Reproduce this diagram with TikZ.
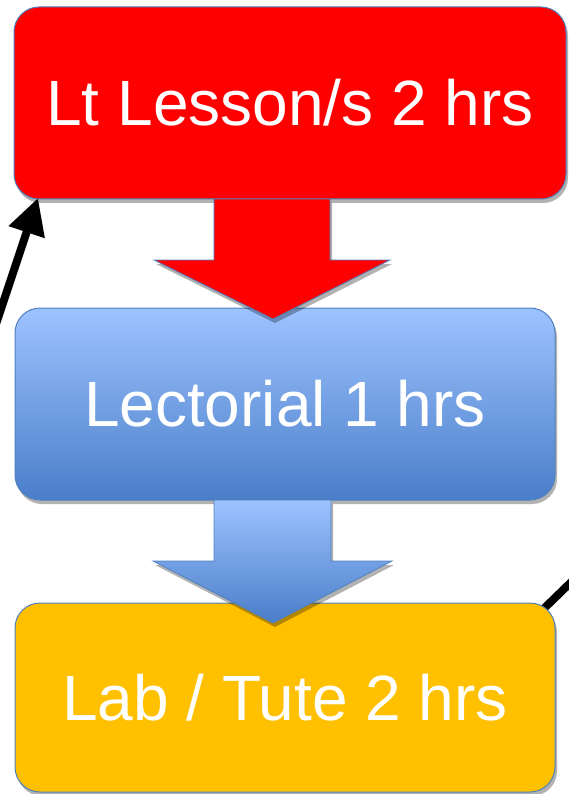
\documentclass[tikz,border=0pt]{standalone}
\usepackage{fontspec}
\setmainfont{Liberation Sans}
\usetikzlibrary{arrows.meta,shadows}

\definecolor{lessonred}{HTML}{FF0000}
\definecolor{edgeblue}{HTML}{4F81BD}
\definecolor{lightblue}{HTML}{9DC3FF}
\definecolor{darkblue}{HTML}{4A7EC9}
\definecolor{labyellow}{HTML}{FFC000}

\begin{document}
\begin{tikzpicture}[x=1pt,y=-1pt,
   every node/.style={draw=edgeblue,line width=1pt,rectangle,rounded corners=25pt,
                      inner sep=0pt,text=white,font=\fontsize{64}{70}\selectfont},
   soft shadow/.style={drop shadow={shadow xshift=2pt,shadow yshift=-4pt,
                                    opacity=.3,fill=black}},
   bluegrad/.style={top color=lightblue,bottom color=darkblue},
   blockarrow/.style={draw=edgeblue,line width=.8pt,line join=miter,soft shadow},
   loop/.style={line width=8pt,-{Triangle[length=36pt,width=36pt]}}]

\useasboundingbox (0,0) rectangle (568,794);

% back loop from the lab to the lesson
\coordinate (labcorner) at (530,622);
\coordinate (lessoncorner) at (38,198);
\draw[loop] (labcorner) -- (660,496) -- (660,880) -- (-90,880)
    -- (-40,432) -- (lessoncorner);

\node[fill=lessonred,soft shadow,minimum width=552pt,minimum height=192pt]
    (lesson) at (290,103) {Lt Lesson/s 2 hrs};
\node[bluegrad,soft shadow,minimum width=540pt,minimum height=192pt]
    (lectorial) at (285,404) {Lectorial 1 hrs};
\node[fill=labyellow,soft shadow,minimum width=540pt,minimum height=189pt]
    (lab) at (285,697.5) {Lab / Tute 2 hrs};

\draw[blockarrow,fill=lessonred] (214,199) -- (330,199) -- (330,260) -- (390,260)
    -- (273,319) -- (154,260) -- (214,260) -- cycle;
\draw[blockarrow,bluegrad] (214,500) -- (331,500) -- (331,561) -- (392,561)
    -- (273,623) -- (153,561) -- (214,561) -- cycle;

\end{tikzpicture}
\end{document}
